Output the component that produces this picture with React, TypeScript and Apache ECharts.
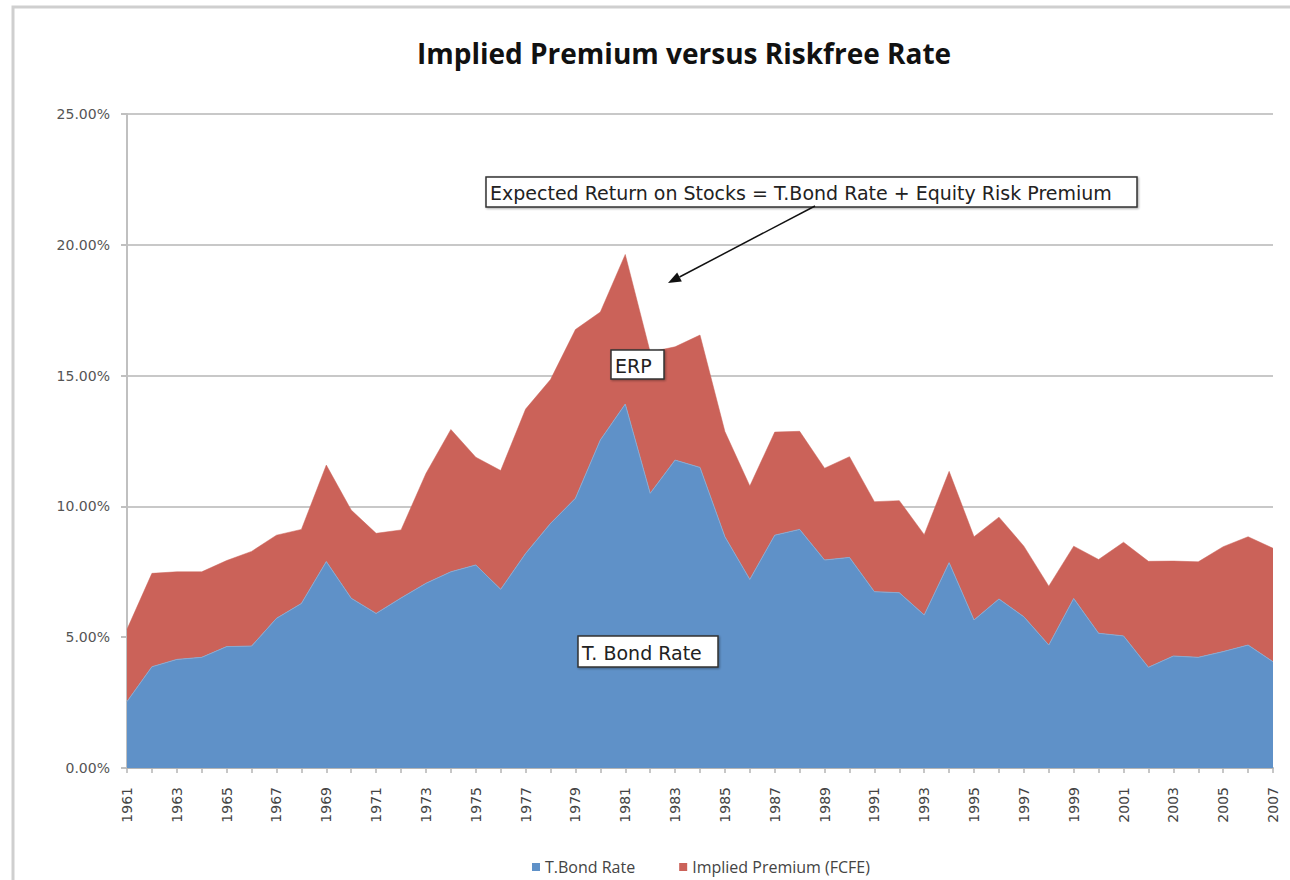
import React, { useEffect, useRef } from "react";
import * as echarts from "echarts";

const years: string[] = [];
for (let y = 1961; y <= 2007; y++) years.push(String(y));

// T.Bond rate (%), 1961-2007
const tbondRate = [
  2.54, 3.87, 4.15, 4.23, 4.64, 4.66, 5.72, 6.29, 7.89, 6.49,
  5.91, 6.5, 7.06, 7.5, 7.76, 6.83, 8.2, 9.35, 10.31, 12.54,
  13.91, 10.5, 11.77, 11.49, 8.84, 7.21, 8.9, 9.12, 7.95, 8.05,
  6.74, 6.7, 5.85, 7.85, 5.66, 6.46, 5.78, 4.7, 6.48, 5.15,
  5.05, 3.85, 4.28, 4.23, 4.45, 4.7, 4.06,
];

// Implied premium (FCFE) (%), 1961-2007
const impliedPremium = [
  2.76, 3.57, 3.35, 3.27, 3.29, 3.62, 3.18, 2.83, 3.69, 3.37,
  3.06, 2.6, 4.2, 5.44, 4.12, 4.54, 5.52, 5.5, 6.45, 4.89,
  5.72, 5.4, 4.33, 5.06, 4.02, 3.57, 3.94, 3.75, 3.51, 3.85,
  3.44, 3.52, 3.07, 3.49, 3.18, 3.13, 2.7, 2.25, 2.0, 2.82,
  3.58, 4.05, 3.63, 3.65, 4.01, 4.14, 4.34,
];

const yTicks = [0, 5, 10, 15, 20, 25];

const TITLE = "Implied Premium versus Riskfree Rate";
const NOTE_MAIN = "Expected Return on Stocks = T.Bond Rate + Equity Risk Premium";
const NOTE_ERP = "ERP";
const NOTE_TB = "T. Bond Rate";

const BLUE = "#5f91c8";
const RED = "#cb6259";

function noteBox(x: number, y: number, w: number, h: number, text: string) {
  return {
    type: "group",
    children: [
      {
        type: "rect",
        shape: { x, y, width: w, height: h },
        style: {
          fill: "#fff",
          stroke: "#333",
          lineWidth: 1.5,
          shadowBlur: 2,
          shadowColor: "rgba(0,0,0,0.35)",
          shadowOffsetX: 1,
          shadowOffsetY: 1,
        },
        z: 10,
      },
      {
        type: "text",
        x: x + 4,
        y: y + h / 2 + 1,
        style: {
          text,
          fill: "#222",
          font: "19px 'DejaVu Sans'",
          textVerticalAlign: "middle",
          verticalAlign: "middle",
        },
        z: 11,
      },
    ],
  };
}

export default function App() {
  const ref = useRef<HTMLDivElement>(null);
  useEffect(() => {
    if (!ref.current) return;
    const chart = echarts.init(ref.current, null, { renderer: "svg" });
    const tip = [668, 283];
    const start = [815, 206];
    const dx = tip[0] - start[0];
    const dy = tip[1] - start[1];
    const len = Math.sqrt(dx * dx + dy * dy);
    const ux = dx / len;
    const uy = dy / len;
    const bx = tip[0] - 13 * ux;
    const by = tip[1] - 13 * uy;
    const px = -uy;
    const py = ux;
    chart.setOption({
      animation: false,
      backgroundColor: "#fff",
      title: {
        text: TITLE,
        left: 679,
        top: 34,
        textAlign: "center",
        textStyle: {
          fontFamily: "'Open Sans'",
          fontWeight: "bold",
          fontSize: 28,
          color: "#111",
        },
      },
      legend: {
        bottom: 0,
        left: 527,
        icon: "rect",
        itemWidth: 8,
        itemHeight: 8,
        itemGap: 44,
        textStyle: { fontFamily: "'Open Sans'", fontSize: 16, color: "#444" },
        data: ["T.Bond Rate", "Implied Premium (FCFE)"],
      },
      grid: { left: 127, right: 17, top: 114, bottom: 112 },
      xAxis: {
        type: "category",
        boundaryGap: false,
        data: years,
        axisLine: { lineStyle: { color: "#b5b5b5", width: 2 } },
        axisTick: {
          show: true,
          interval: 0,
          length: 5,
          lineStyle: { color: "#b5b5b5", width: 1.5 },
        },
        axisLabel: {
          interval: 1,
          rotate: 90,
          margin: 19,
          fontFamily: "'DejaVu Sans'",
          fontSize: 14,
          color: "#444",
        },
        splitLine: { show: false },
      },
      yAxis: {
        type: "value",
        min: yTicks[0],
        max: yTicks[yTicks.length - 1],
        interval: 5,
        axisLine: { show: true, lineStyle: { color: "#c0c0c0", width: 2 } },
        axisTick: { show: true, length: 6, lineStyle: { color: "#c0c0c0", width: 2 } },
        axisLabel: {
          margin: 17,
          fontFamily: "'DejaVu Sans'",
          fontSize: 14,
          color: "#555",
          formatter: (v: number) => v.toFixed(2) + "%",
        },
        splitLine: { show: true, lineStyle: { color: "#c8c8c8", width: 2 } },
      },
      series: [
        {
          name: "T.Bond Rate",
          type: "line",
          stack: "total",
          data: tbondRate,
          symbol: "none",
          itemStyle: { color: BLUE },
          lineStyle: { width: 1, color: "#8aa9cf" },
          areaStyle: { color: BLUE, opacity: 1 },
          z: 3,
        },
        {
          name: "Implied Premium (FCFE)",
          type: "line",
          stack: "total",
          data: impliedPremium,
          symbol: "none",
          itemStyle: { color: RED },
          lineStyle: { width: 0.5, color: RED },
          areaStyle: { color: RED, opacity: 1 },
          z: 2,
        },
      ],
      graphic: [
        {
          type: "rect",
          shape: { x: 13, y: 7, width: 1300, height: 900 },
          style: { fill: "none", stroke: "#cfcfcf", lineWidth: 3 },
          silent: true,
          z: 0,
        },
        noteBox(486, 177, 651, 30, NOTE_MAIN),
        noteBox(611, 350, 53, 29, NOTE_ERP),
        noteBox(578, 636, 140, 31, NOTE_TB),
        {
          type: "line",
          shape: { x1: start[0], y1: start[1], x2: bx, y2: by },
          style: { stroke: "#111", lineWidth: 1.5 },
          z: 12,
        },
        {
          type: "polygon",
          shape: {
            points: [
              [tip[0], tip[1]],
              [bx + 5 * px, by + 5 * py],
              [bx - 5 * px, by - 5 * py],
            ],
          },
          style: { fill: "#111" },
          z: 12,
        },
      ],
    });
    return () => chart.dispose();
  }, []);
  return (
    <div
      ref={ref}
      style={{ position: "fixed", left: 0, top: 0, width: 1290, height: 880 }}
    />
  );
}
